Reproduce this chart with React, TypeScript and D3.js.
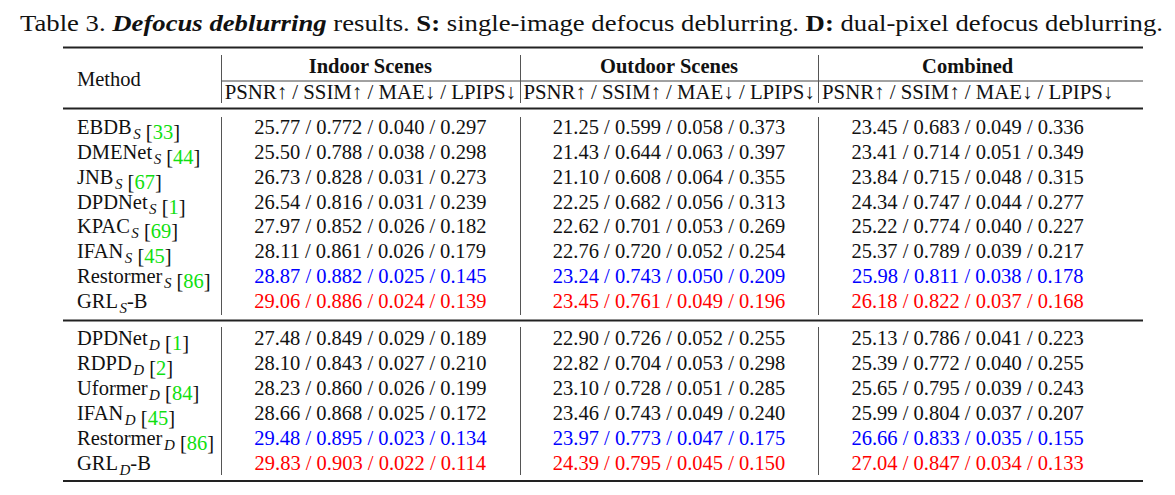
import React from "react";
import * as d3 from "d3";

// ---------- data ----------
const titleParts = [
  { t: "Table 3. ", w: "normal", s: "normal" },
  { t: "Defocus deblurring", w: "bold", s: "italic" },
  { t: " results. ", w: "normal", s: "normal" },
  { t: "S:", w: "bold", s: "normal" },
  { t: " single-image defocus deblurring. ", w: "normal", s: "normal" },
  { t: "D:", w: "bold", s: "normal" },
  { t: " dual-pixel defocus deblurring.", w: "normal", s: "normal" },
];

const columns = ["Indoor Scenes", "Outdoor Scenes", "Combined"];
const metricHeader = "PSNR\u2191 / SSIM\u2191 / MAE\u2193 / LPIPS\u2193";

const methodsS = ["EBDB", "DMENet", "JNB", "DPDNet", "KPAC", "IFAN", "Restormer", "GRL"];
const refsS = ["33", "44", "67", "1", "69", "45", "86", ""];
const suffixS = ["", "", "", "", "", "", "", "-B"];

const methodsD = ["DPDNet", "RDPD", "Uformer", "IFAN", "Restormer", "GRL"];
const refsD = ["1", "2", "84", "45", "86", ""];
const suffixD = ["", "", "", "", "", "-B"];

const indoorS = [
  [25.77, 0.772, 0.04, 0.297],
  [25.5, 0.788, 0.038, 0.298],
  [26.73, 0.828, 0.031, 0.273],
  [26.54, 0.816, 0.031, 0.239],
  [27.97, 0.852, 0.026, 0.182],
  [28.11, 0.861, 0.026, 0.179],
  [28.87, 0.882, 0.025, 0.145],
  [29.06, 0.886, 0.024, 0.139],
];
const outdoorS = [
  [21.25, 0.599, 0.058, 0.373],
  [21.43, 0.644, 0.063, 0.397],
  [21.1, 0.608, 0.064, 0.355],
  [22.25, 0.682, 0.056, 0.313],
  [22.62, 0.701, 0.053, 0.269],
  [22.76, 0.72, 0.052, 0.254],
  [23.24, 0.743, 0.05, 0.209],
  [23.45, 0.761, 0.049, 0.196],
];
const combinedS = [
  [23.45, 0.683, 0.049, 0.336],
  [23.41, 0.714, 0.051, 0.349],
  [23.84, 0.715, 0.048, 0.315],
  [24.34, 0.747, 0.044, 0.277],
  [25.22, 0.774, 0.04, 0.227],
  [25.37, 0.789, 0.039, 0.217],
  [25.98, 0.811, 0.038, 0.178],
  [26.18, 0.822, 0.037, 0.168],
];
const indoorD = [
  [27.48, 0.849, 0.029, 0.189],
  [28.1, 0.843, 0.027, 0.21],
  [28.23, 0.86, 0.026, 0.199],
  [28.66, 0.868, 0.025, 0.172],
  [29.48, 0.895, 0.023, 0.134],
  [29.83, 0.903, 0.022, 0.114],
];
const outdoorD = [
  [22.9, 0.726, 0.052, 0.255],
  [22.82, 0.704, 0.053, 0.298],
  [23.1, 0.728, 0.051, 0.285],
  [23.46, 0.743, 0.049, 0.24],
  [23.97, 0.773, 0.047, 0.175],
  [24.39, 0.795, 0.045, 0.15],
];
const combinedD = [
  [25.13, 0.786, 0.041, 0.223],
  [25.39, 0.772, 0.04, 0.255],
  [25.65, 0.795, 0.039, 0.243],
  [25.99, 0.804, 0.037, 0.207],
  [26.66, 0.833, 0.035, 0.155],
  [27.04, 0.847, 0.034, 0.133],
];

// rank markers: index of best (red) and second best (blue) rows per group
const bestS = 7, secondS = 6;
const bestD = 5, secondD = 4;

// ---------- layout ----------
const W = 1175, H = 495;
const FONT = "Liberation Serif";
const FS = 20.5;
const SUB = 15;
const LEFT = 63, RIGHT = 1143;
const methodX = 77;
const GREEN = "#10e010";
const BLUE = "#0000ff";
const RED = "#ff0000";
const LINE = "#222";
const TXT = "#111";

const xBand = d3.scaleBand<string>().domain(columns).range([221, 1117]).padding(0);
const ySGroup = d3.scalePoint<number>().domain(d3.range(methodsS.length)).range([127, 301]);
const yDGroup = d3.scalePoint<number>().domain(d3.range(methodsD.length)).range([338, 463]);

const f2 = d3.format(".2f");
const f3 = d3.format(".3f");
const fmt = (r: number[]) => `${f2(r[0])} / ${f3(r[1])} / ${f3(r[2])} / ${f3(r[3])}`;

const BASE = 7; // center -> baseline offset

function MethodLabel({ name, sub, suffix, ref_, y }: any) {
  return (
    <text x={methodX} y={y + BASE} fontSize={FS} fill={TXT} fontFamily={FONT}>
      <tspan>{name}</tspan>
      <tspan fontStyle="italic" fontSize={SUB} dy={5} dx={1.5}>{sub}</tspan>
      <tspan dy={-5}>{suffix}</tspan>
      {ref_ ? (
        <>
          <tspan>{" ["}</tspan>
          <tspan fill={GREEN}>{ref_}</tspan>
          <tspan>{"]"}</tspan>
        </>
      ) : null}
    </text>
  );
}

function Group({ methods, refs, suffixes, sub, cols, yScale, best, second }: any) {
  return (
    <g>
      {methods.map((m: string, i: number) => (
        <MethodLabel key={"m" + i} name={m} sub={sub} suffix={suffixes[i]} ref_={refs[i]} y={yScale(i)} />
      ))}
      {cols.map((col: number[][], c: number) =>
        col.map((r, i) => (
          <text
            key={c + "-" + i}
            x={(xBand(columns[c]) as number) + xBand.bandwidth() / 2}
            y={(yScale(i) as number) + BASE}
            fontSize={FS}
            fontFamily={FONT}
            textAnchor="middle"
            fill={i === best ? RED : i === second ? BLUE : TXT}
          >
            {fmt(r)}
          </text>
        ))
      )}
    </g>
  );
}

export default function App() {
  const vx = columns.map((c) => Math.round(xBand(c) as number));
  return (
    <svg width={W} height={H} style={{ position: "absolute", left: 0, top: 0, background: "#fff" }}>
      <rect width={W} height={H} fill="#fff" />
      {/* title */}
      <text x={20} y={31} fontSize={24} fontFamily={FONT} fill={TXT} textLength={1143} lengthAdjust="spacingAndGlyphs">
        {titleParts.map((p, i) => (
          <tspan key={i} fontWeight={p.w} fontStyle={p.s}>{p.t}</tspan>
        ))}
      </text>

      {/* rules */}
      <line x1={LEFT} x2={RIGHT} y1={47.5} y2={47.5} stroke={LINE} strokeWidth={2.2} />
      <line x1={vx[0]} x2={RIGHT} y1={81} y2={81} stroke="#444" strokeWidth={1} />
      <line x1={LEFT} x2={RIGHT} y1={108.5} y2={108.5} stroke={LINE} strokeWidth={1.8} />
      <line x1={LEFT} x2={RIGHT} y1={320.5} y2={320.5} stroke={LINE} strokeWidth={2} />
      <line x1={LEFT} x2={RIGHT} y1={481} y2={481} stroke={LINE} strokeWidth={2.2} />

      {/* vertical separators */}
      {vx.map((x, i) => (
        <g key={"v" + i}>
          <line x1={x + 0.5} x2={x + 0.5} y1={55} y2={103} stroke="#555" strokeWidth={1} />
          <line x1={x + 0.5} x2={x + 0.5} y1={117} y2={315} stroke="#555" strokeWidth={1} />
          <line x1={x + 0.5} x2={x + 0.5} y1={327} y2={475} stroke="#555" strokeWidth={1} />
        </g>
      ))}

      {/* header */}
      <text x={methodX} y={79 + BASE} fontSize={FS} fontFamily={FONT} fill={TXT}>Method</text>
      {columns.map((c) => (
        <g key={c}>
          <text x={(xBand(c) as number) + xBand.bandwidth() / 2} y={66 + BASE} fontSize={FS} fontWeight="bold" fontFamily={FONT} textAnchor="middle" fill={TXT}>{c}</text>
          <text x={(xBand(c) as number) + xBand.bandwidth() / 2} y={92 + BASE} fontSize={20.8} fontFamily={FONT} textAnchor="middle" fill={TXT}>{metricHeader}</text>
        </g>
      ))}

      <Group methods={methodsS} refs={refsS} suffixes={suffixS} sub="S" cols={[indoorS, outdoorS, combinedS]} yScale={ySGroup} best={bestS} second={secondS} />
      <Group methods={methodsD} refs={refsD} suffixes={suffixD} sub="D" cols={[indoorD, outdoorD, combinedD]} yScale={yDGroup} best={bestD} second={secondD} />
    </svg>
  );
}
